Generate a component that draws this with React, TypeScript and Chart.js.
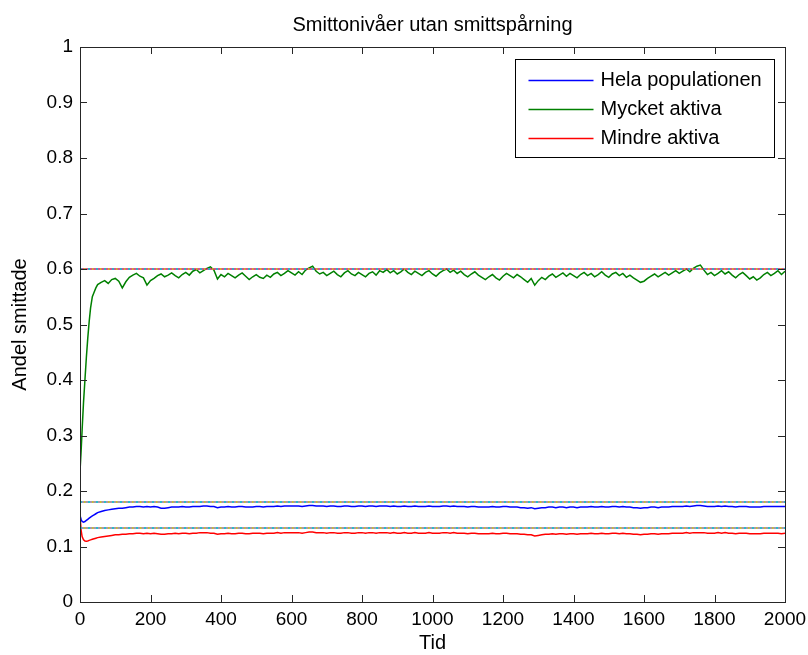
import React, { useEffect, useRef } from "react";
import { Chart, registerables } from "chart.js";

Chart.register(...registerables);

const TITLE = "Smittonivåer utan smittspårning";
const X_LABEL = "Tid";
const Y_LABEL = "Andel smittade";
const SERIES_NAMES = ["Hela populationen", "Mycket aktiva", "Mindre aktiva"];
const SERIES_COLORS = ["#0000ff", "#008000", "#ff0000"];
const REF_LEVELS = [0.6, 0.18, 0.1333];
const REF_BASE_COLORS = ["#c0206a", "#8a7490", "#8a7490"];
const X_MIN = 0;
const X_MAX = 2000;
const X_STEP = 200;
const Y_MIN = 0;
const Y_MAX = 1;
const Y_STEP = 0.1;

const time = [
  0, 3, 6, 10, 14, 18, 22, 26, 30, 35, 40, 45, 50,
  60, 70, 80, 90, 100, 110, 120, 130, 140, 150,
  160, 170, 180, 190, 200, 210, 220, 230, 240, 250,
  260, 270, 280, 290, 300, 310, 320, 330, 340, 350,
  360, 370, 380, 390, 400, 410, 420, 430, 440, 450,
  460, 470, 480, 490, 500, 510, 520, 530, 540, 550,
  560, 570, 580, 590, 600, 610, 620, 630, 640, 650,
  660, 670, 680, 690, 700, 710, 720, 730, 740, 750,
  760, 770, 780, 790, 800, 810, 820, 830, 840, 850,
  860, 870, 880, 890, 900, 910, 920, 930, 940, 950,
  960, 970, 980, 990, 1000, 1010, 1020, 1030, 1040, 1050,
  1060, 1070, 1080, 1090, 1100, 1110, 1120, 1130, 1140, 1150,
  1160, 1170, 1180, 1190, 1200, 1210, 1220, 1230, 1240, 1250,
  1260, 1270, 1280, 1290, 1300, 1310, 1320, 1330, 1340, 1350,
  1360, 1370, 1380, 1390, 1400, 1410, 1420, 1430, 1440, 1450,
  1460, 1470, 1480, 1490, 1500, 1510, 1520, 1530, 1540, 1550,
  1560, 1570, 1580, 1590, 1600, 1610, 1620, 1630, 1640, 1650,
  1660, 1670, 1680, 1690, 1700, 1710, 1720, 1730, 1740, 1750,
  1760, 1770, 1780, 1790, 1800, 1810, 1820, 1830, 1840, 1850,
  1860, 1870, 1880, 1890, 1900, 1910, 1920, 1930, 1940, 1950,
  1960, 1970, 1980, 1990, 2000,
];

const helaPopulationen = [
  0.156, 0.149, 0.145, 0.144, 0.145, 0.147, 0.149, 0.151, 0.153, 0.155, 0.157, 0.159, 0.161,
  0.163, 0.165, 0.166, 0.167, 0.168, 0.169, 0.169, 0.170, 0.171, 0.171,
  0.172, 0.172, 0.171, 0.172, 0.171, 0.172, 0.171, 0.169, 0.169, 0.170,
  0.171, 0.171, 0.171, 0.172, 0.171, 0.171, 0.172, 0.172, 0.172, 0.173,
  0.173, 0.172, 0.172, 0.170, 0.171, 0.171, 0.172, 0.171, 0.171, 0.172,
  0.172, 0.171, 0.171, 0.171, 0.172, 0.172, 0.171, 0.172, 0.172, 0.172,
  0.173, 0.172, 0.173, 0.173, 0.173, 0.173, 0.173, 0.172, 0.173, 0.174,
  0.174, 0.173, 0.173, 0.173, 0.172, 0.173, 0.173, 0.172, 0.172, 0.173,
  0.173, 0.172, 0.172, 0.173, 0.173, 0.172, 0.173, 0.173, 0.172, 0.173,
  0.173, 0.173, 0.172, 0.173, 0.172, 0.172, 0.173, 0.172, 0.172, 0.173,
  0.172, 0.172, 0.172, 0.173, 0.172, 0.172, 0.172, 0.173, 0.173, 0.172,
  0.173, 0.172, 0.172, 0.172, 0.171, 0.172, 0.172, 0.171, 0.171, 0.171,
  0.171, 0.172, 0.171, 0.171, 0.172, 0.172, 0.171, 0.171, 0.171, 0.170,
  0.170, 0.169, 0.170, 0.168, 0.169, 0.170, 0.170, 0.171, 0.171, 0.170,
  0.171, 0.171, 0.170, 0.171, 0.171, 0.170, 0.171, 0.171, 0.171, 0.172,
  0.171, 0.171, 0.172, 0.171, 0.171, 0.172, 0.172, 0.171, 0.172, 0.171,
  0.171, 0.170, 0.170, 0.169, 0.170, 0.170, 0.171, 0.171, 0.170, 0.171,
  0.171, 0.171, 0.172, 0.172, 0.172, 0.172, 0.173, 0.172, 0.173, 0.174,
  0.174, 0.173, 0.172, 0.172, 0.172, 0.173, 0.172, 0.173, 0.172, 0.172,
  0.171, 0.172, 0.172, 0.172, 0.171, 0.171, 0.171, 0.171, 0.172, 0.172,
  0.172, 0.172, 0.172, 0.172, 0.172,
];

const mycketAktiva = [
  0.235, 0.27, 0.31, 0.36, 0.40, 0.44, 0.475, 0.505, 0.53, 0.55, 0.558, 0.566, 0.572,
  0.576, 0.579, 0.574, 0.581, 0.583, 0.578, 0.566, 0.577, 0.585, 0.589,
  0.592, 0.587, 0.584, 0.571, 0.579, 0.583, 0.588, 0.591, 0.586, 0.589,
  0.593, 0.588, 0.584, 0.590, 0.594, 0.589, 0.596, 0.599, 0.593, 0.597,
  0.601, 0.604, 0.598, 0.582, 0.590, 0.586, 0.592, 0.588, 0.584, 0.589,
  0.593, 0.587, 0.581, 0.586, 0.590, 0.585, 0.583, 0.589, 0.585, 0.591,
  0.594, 0.588, 0.592, 0.597, 0.593, 0.589, 0.595, 0.590, 0.598, 0.602,
  0.605, 0.596, 0.591, 0.594, 0.588, 0.592, 0.596, 0.590, 0.586, 0.593,
  0.597, 0.591, 0.588, 0.594, 0.590, 0.586, 0.592, 0.595, 0.589, 0.597,
  0.594, 0.599, 0.593, 0.597, 0.591, 0.595, 0.600, 0.594, 0.590, 0.596,
  0.592, 0.588, 0.594, 0.597, 0.591, 0.587, 0.593, 0.597, 0.600, 0.594,
  0.598, 0.592, 0.596, 0.590, 0.586, 0.591, 0.595, 0.589, 0.585, 0.581,
  0.586, 0.590, 0.584, 0.580, 0.587, 0.592, 0.588, 0.584, 0.590, 0.586,
  0.581, 0.576, 0.583, 0.571, 0.579, 0.585, 0.581, 0.587, 0.591, 0.585,
  0.589, 0.593, 0.587, 0.592, 0.588, 0.584, 0.590, 0.594, 0.588, 0.592,
  0.586, 0.590, 0.595, 0.589, 0.585, 0.591, 0.594, 0.588, 0.592, 0.585,
  0.589, 0.584, 0.580, 0.576, 0.578, 0.583, 0.587, 0.591, 0.586, 0.590,
  0.594, 0.589, 0.593, 0.597, 0.592, 0.596, 0.600, 0.595, 0.601, 0.605,
  0.607, 0.598, 0.590, 0.594, 0.588, 0.592, 0.597, 0.591, 0.595, 0.589,
  0.584, 0.590, 0.594, 0.588, 0.582, 0.586, 0.580, 0.584, 0.590, 0.594,
  0.588, 0.592, 0.597, 0.590, 0.596,
];

const mindreAktiva = [
  0.156, 0.130, 0.118, 0.112, 0.110, 0.1095, 0.110, 0.111, 0.112, 0.113, 0.114, 0.115, 0.116,
  0.117, 0.118, 0.119, 0.120, 0.121, 0.121, 0.122, 0.122, 0.123, 0.123,
  0.124, 0.124, 0.123, 0.124, 0.123, 0.124, 0.123, 0.122, 0.122, 0.123,
  0.123, 0.124, 0.123, 0.124, 0.124, 0.123, 0.124, 0.124, 0.125, 0.125,
  0.125, 0.124, 0.124, 0.122, 0.123, 0.123, 0.124, 0.123, 0.123, 0.124,
  0.124, 0.123, 0.123, 0.124, 0.124, 0.124, 0.123, 0.124, 0.124, 0.124,
  0.125, 0.124, 0.125, 0.125, 0.125, 0.125, 0.125, 0.124, 0.125, 0.126,
  0.126, 0.125, 0.125, 0.125, 0.124, 0.125, 0.125, 0.124, 0.124, 0.125,
  0.125, 0.124, 0.124, 0.125, 0.125, 0.124, 0.125, 0.125, 0.124, 0.125,
  0.125, 0.125, 0.124, 0.125, 0.124, 0.124, 0.125, 0.124, 0.124, 0.125,
  0.124, 0.124, 0.124, 0.125, 0.124, 0.124, 0.124, 0.125, 0.125, 0.124,
  0.125, 0.124, 0.124, 0.124, 0.123, 0.124, 0.124, 0.123, 0.123, 0.123,
  0.123, 0.124, 0.123, 0.123, 0.124, 0.124, 0.123, 0.123, 0.123, 0.122,
  0.122, 0.121, 0.121, 0.119, 0.120, 0.121, 0.122, 0.122, 0.123, 0.122,
  0.123, 0.123, 0.122, 0.123, 0.123, 0.122, 0.123, 0.123, 0.123, 0.124,
  0.123, 0.123, 0.124, 0.123, 0.123, 0.124, 0.124, 0.123, 0.124, 0.123,
  0.123, 0.122, 0.122, 0.121, 0.122, 0.122, 0.123, 0.123, 0.122, 0.123,
  0.123, 0.123, 0.124, 0.124, 0.124, 0.124, 0.125, 0.124, 0.125, 0.125,
  0.125, 0.125, 0.124, 0.124, 0.124, 0.125, 0.124, 0.125, 0.124, 0.124,
  0.123, 0.124, 0.124, 0.124, 0.123, 0.123, 0.123, 0.123, 0.124, 0.124,
  0.124, 0.124, 0.124, 0.123, 0.124,
];

const SERIES_VALUES = [helaPopulationen, mycketAktiva, mindreAktiva];

const FONT = "'Liberation Sans', Arial, Helvetica, sans-serif";
const AXIS_COLOR = "#262626";

const matlabFramePlugin = {
  id: "matlabFrame",
  afterDraw(chart: any) {
    const { ctx, chartArea, scales } = chart;
    const { left, right, top, bottom } = chartArea;
    const tickLen = 7;
    ctx.save();

    // title centred over the axes
    ctx.fillStyle = "#000000";
    ctx.font = `20px ${FONT}`;
    ctx.textAlign = "center";
    ctx.textBaseline = "middle";
    ctx.fillText(TITLE, (left + right) / 2, top - 22);

    ctx.strokeStyle = AXIS_COLOR;
    ctx.lineWidth = 1;
    ctx.beginPath();
    scales.x.ticks.forEach((t: any) => {
      const px = Math.round(scales.x.getPixelForValue(t.value)) + 0.5;
      ctx.moveTo(px, bottom);
      ctx.lineTo(px, bottom - tickLen);
      ctx.moveTo(px, top);
      ctx.lineTo(px, top + tickLen);
    });
    scales.y.ticks.forEach((t: any) => {
      const py = Math.round(scales.y.getPixelForValue(t.value)) + 0.5;
      ctx.moveTo(left, py);
      ctx.lineTo(left + tickLen, py);
      ctx.moveTo(right, py);
      ctx.lineTo(right - tickLen, py);
    });
    ctx.stroke();
    ctx.strokeRect(
      Math.round(left) + 0.5,
      Math.round(top) + 0.5,
      Math.round(right - left),
      Math.round(bottom - top)
    );

    // legend box (MATLAB style, inside the axes, top right)
    ctx.font = `20px ${FONT}`;
    const textW = Math.max(...SERIES_NAMES.map((n) => ctx.measureText(n).width));
    const padL = 13;
    const sampleLen = 65;
    const gap = 7;
    const padR = 13;
    const rowH = 29;
    const boxW = Math.round(padL + sampleLen + gap + textW + padR);
    const boxH = 98;
    const bx = Math.round(right - 11 - boxW) + 0.5;
    const by = Math.round(top + 12) + 0.5;
    ctx.fillStyle = "#ffffff";
    ctx.fillRect(bx, by, boxW, boxH);
    ctx.strokeStyle = "#000000";
    ctx.strokeRect(bx, by, boxW, boxH);
    ctx.textBaseline = "middle";
    ctx.textAlign = "left";
    SERIES_NAMES.forEach((name, i) => {
      const cy = Math.round(by + 20 + i * rowH) + 0.5;
      ctx.strokeStyle = SERIES_COLORS[i];
      ctx.lineWidth = 1.5;
      ctx.beginPath();
      ctx.moveTo(bx + padL, cy);
      ctx.lineTo(bx + padL + sampleLen, cy);
      ctx.stroke();
      ctx.fillStyle = "#000000";
      ctx.fillText(name, bx + padL + sampleLen + gap, cy);
    });
    ctx.restore();
  },
};

export default function App() {
  const canvasRef = useRef<HTMLCanvasElement | null>(null);

  useEffect(() => {
    if (!canvasRef.current) return;

    const seriesSets = SERIES_NAMES.map((name, i) => ({
      label: name,
      data: time.map((t, k) => ({ x: t, y: SERIES_VALUES[i][k] })),
      borderColor: SERIES_COLORS[i],
      backgroundColor: SERIES_COLORS[i],
      borderWidth: 1.5,
      pointRadius: 0,
      tension: 0,
      fill: false,
      order: 2,
    }));

    const refSets: any[] = [];
    REF_LEVELS.forEach((lvl, i) => {
      const pts = [
        { x: X_MIN, y: lvl },
        { x: X_MAX, y: lvl },
      ];
      refSets.push({
        label: "ref-base",
        data: pts,
        borderColor: REF_BASE_COLORS[i],
        borderWidth: 1.5,
        pointRadius: 0,
        order: 1,
      });
      refSets.push({
        label: "ref-cyan",
        data: pts,
        borderColor: "#00c8d8",
        borderWidth: 1.5,
        borderDash: [2, 6],
        borderDashOffset: 0,
        pointRadius: 0,
        order: 0,
      });
      refSets.push({
        label: "ref-yellow",
        data: pts,
        borderColor: "#d8d000",
        borderWidth: 1.5,
        borderDash: [1.5, 6.5],
        borderDashOffset: 4,
        pointRadius: 0,
        order: 0,
      });
    });

    const chart = new Chart(canvasRef.current, {
      type: "line",
      data: { datasets: [...seriesSets, ...refSets] },
      options: {
        animation: false,
        responsive: false,
        maintainAspectRatio: false,
        layout: { padding: { left: 0, right: 0, top: 47, bottom: 0 } },
        plugins: {
          legend: { display: false },
          tooltip: { enabled: false },
          title: { display: false },
        },
        scales: {
          x: {
            type: "linear",
            min: X_MIN,
            max: X_MAX,
            grid: { display: false, drawTicks: false },
            border: { display: false },
            ticks: {
              stepSize: X_STEP,
              autoSkip: false,
              maxRotation: 0,
              padding: 6,
              color: "#000000",
              font: { family: FONT, size: 19 },
              callback: (v: any) => String(v),
            },
            title: {
              display: true,
              text: X_LABEL,
              color: "#000000",
              font: { family: FONT, size: 20 },
              padding: { top: 0, bottom: 0 },
            },
            afterFit: (s: any) => {
              s.height = 53;
              s.paddingLeft = 0;
              s.paddingRight = 23;
            },
          },
          y: {
            type: "linear",
            min: Y_MIN,
            max: Y_MAX,
            grid: { display: false, drawTicks: false },
            border: { display: false },
            ticks: {
              stepSize: Y_STEP,
              padding: 7,
              color: "#000000",
              font: { family: FONT, size: 19 },
              callback: (v: any) => String(Math.round(Number(v) * 10) / 10),
            },
            title: {
              display: true,
              text: Y_LABEL,
              color: "#000000",
              font: { family: FONT, size: 20 },
              padding: { top: 8, bottom: 0 },
            },
            afterFit: (s: any) => {
              s.width = 80;
            },
          },
        },
      },
      plugins: [matlabFramePlugin],
    });

    return () => chart.destroy();
  }, []);

  return (
    <div style={{ position: "absolute", left: 0, top: 0, width: 808, height: 655, background: "#ffffff" }}>
      <canvas ref={canvasRef} width={808} height={655} style={{ display: "block" }} />
    </div>
  );
}
